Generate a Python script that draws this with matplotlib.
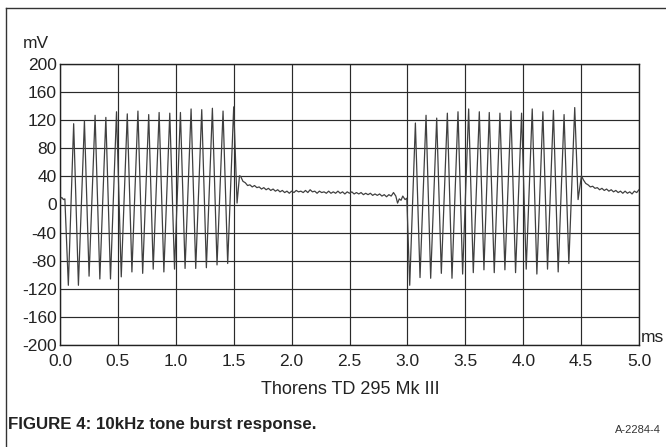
import numpy as np
import matplotlib
matplotlib.use("Agg")
import matplotlib.pyplot as plt
from matplotlib import font_manager
from matplotlib.lines import Line2D

# -------------------------------------------------------------
# Tone burst trace (ms, mV): peaks and troughs of each burst
# -------------------------------------------------------------
burst1_peak_t = [0.118, 0.211, 0.303, 0.396, 0.488, 0.581, 0.673, 0.766,
                 0.856, 0.948, 1.040, 1.132, 1.224, 1.316, 1.408, 1.500]
burst1_peak_v = [115, 119, 127, 124, 132, 129, 133, 128,
                 131, 130, 131, 136, 135, 137, 133, 139]
burst1_trough_t = [0.072, 0.159, 0.251, 0.344, 0.436, 0.529, 0.621, 0.714,
                   0.805, 0.897, 0.989, 1.080, 1.172, 1.264, 1.356, 1.448]
burst1_trough_v = [-115, -115, -102, -106, -106, -103, -96, -98,
                   -92, -96, -92, -91, -91, -90, -86, -84]

burst2_peak_t = [3.069, 3.161, 3.253, 3.345, 3.437, 3.529, 3.621, 3.707,
                 3.799, 3.894, 3.986, 4.078, 4.170, 4.261, 4.353, 4.445]
burst2_peak_v = [116, 127, 123, 130, 132, 136, 132, 131,
                 130, 133, 130, 136, 132, 134, 128, 138]
burst2_trough_t = [3.020, 3.109, 3.201, 3.293, 3.385, 3.477, 3.569, 3.661,
                   3.750, 3.842, 3.934, 4.026, 4.118, 4.210, 4.302, 4.394]
burst2_trough_v = [-115, -104, -105, -98, -105, -99, -97, -93,
                   -97, -93, -97, -92, -99, -92, -96, -84]

# lead-in before the first burst
lead_t = [0.0, 0.015, 0.030, 0.042]
lead_v = [8, 10, 7, 8]

# ringing right after each burst ends
tail1_t = [1.529, 1.550]
tail1_v = [2, 41]
tail2_t = [4.474, 4.503]
tail2_v = [7, 41]

# residual level between bursts, sampled every 0.02 ms from 1.56 ms
gap1_start, gap_step = 1.56, 0.02
gap1_v = [40, 33, 31, 27, 28, 25, 27, 24, 25, 22, 24, 21, 23, 20, 22, 19,
          21, 18, 20, 17, 19, 16, 19, 17, 20, 18, 19, 17, 20, 17, 21, 18,
          19, 16, 19, 17, 18, 16, 19, 16, 18, 16, 19, 16, 18, 15, 18, 16,
          18, 15, 17, 15, 17, 14, 16, 14, 16, 13, 15, 13, 15, 12, 14, 11,
          14, 12, 17]
# wobble just before the second burst
pre2_t = [2.900, 2.915, 2.930, 2.945, 2.960, 2.980, 2.995]
pre2_v = [12, 2, 8, 6, 12, 7, 9]

# level after the second burst, from 4.52 ms
gap2_start = 4.52
gap2_v = [35, 30, 28, 25, 26, 23, 24, 21, 23, 20, 22, 19, 21, 18, 20, 17,
          19, 16, 19, 16, 18, 15, 19, 17, 21]

x_ticks = [0.0, 0.5, 1.0, 1.5, 2.0, 2.5, 3.0, 3.5, 4.0, 4.5, 5.0]
x_labels = ["0.0", "0.5", "1.0", "1.5", "2.0", "2.5", "3.0", "3.5", "4.0", "4.5", "5.0"]
y_ticks = [200, 160, 120, 80, 40, 0, -40, -80, -120, -160, -200]
y_labels = ["200", "160", "120", "80", "40", "0", "-40", "-80", "-120", "-160", "-200"]

# -------------------------------------------------------------
# Build one time-ordered trace
# -------------------------------------------------------------
gap1_t = gap1_start + gap_step * np.arange(len(gap1_v))
gap2_t = gap2_start + gap_step * np.arange(len(gap2_v))

t = np.concatenate([lead_t, burst1_peak_t, burst1_trough_t, tail1_t, gap1_t, pre2_t,
                    burst2_peak_t, burst2_trough_t, tail2_t, gap2_t])
v = np.concatenate([lead_v, burst1_peak_v, burst1_trough_v, tail1_v, gap1_v, pre2_v,
                    burst2_peak_v, burst2_trough_v, tail2_v, gap2_v])
order = np.argsort(t)
t, v = t[order], v[order]

# -------------------------------------------------------------
# Fonts
# -------------------------------------------------------------
installed = {f.name for f in font_manager.fontManager.ttflist}
base_font = "Liberation Sans" if "Liberation Sans" in installed else "DejaVu Sans"
narrow_font = None
for name in ["Liberation Sans Narrow", "DejaVu Sans Condensed"]:
    if name in installed:
        narrow_font = name
        break
plt.rcParams["font.family"] = base_font
caption_font = narrow_font or base_font
caption_size = 13.5 if narrow_font else 12.2

# -------------------------------------------------------------
# Plot
# -------------------------------------------------------------
fig = plt.figure(figsize=(6.66, 4.47), dpi=100)
ax = fig.add_axes([60 / 666, 1 - 345 / 447, 579 / 666, 281 / 447])

ax.plot(t, v, color="#404040", lw=0.9, zorder=3)

ax.set_xlim(0, 5)
ax.set_ylim(-200, 200)
ax.set_xticks(x_ticks)
ax.set_xticklabels(x_labels)
ax.set_yticks(y_ticks)
ax.set_yticklabels(y_labels)
ax.tick_params(axis="both", length=0, labelsize=12.5, colors="#222222")
ax.tick_params(axis="x", pad=6.5)
ax.tick_params(axis="y", pad=2.5)
ax.grid(True, color="#2a2a2a", lw=0.85)
for s in ax.spines.values():
    s.set_color("#222222")
    s.set_linewidth(1.0)

fig.text(49 / 666, 1 - 44 / 447, "mV", ha="right", va="center", fontsize=12.5, color="#222222")
fig.text(641 / 666, 1 - 337 / 447, "ms", ha="left", va="center", fontsize=12.5, color="#222222")
fig.text(350 / 666, 1 - 390 / 447, "Thorens TD 295 Mk III", ha="center", va="center",
         fontsize=13, color="#222222", family=caption_font)
fig.text(8 / 666, 1 - 425 / 447, "FIGURE 4: 10kHz tone burst response.", ha="left", va="center",
         fontsize=caption_size, fontweight="bold", color="#222222", family=caption_font)
fig.text(661 / 666, 1 - 430 / 447, "A-2284-4", ha="right", va="center", fontsize=8, color="#333333")

# page frame along top and left
fig.add_artist(Line2D([6 / 666, 1], [1 - 8 / 447, 1 - 8 / 447], transform=fig.transFigure,
                      color="#333333", lw=1.0))
fig.add_artist(Line2D([6 / 666, 6 / 666], [0, 1 - 8 / 447], transform=fig.transFigure,
                      color="#333333", lw=1.0))

fig.savefig("out.png", dpi=100)
